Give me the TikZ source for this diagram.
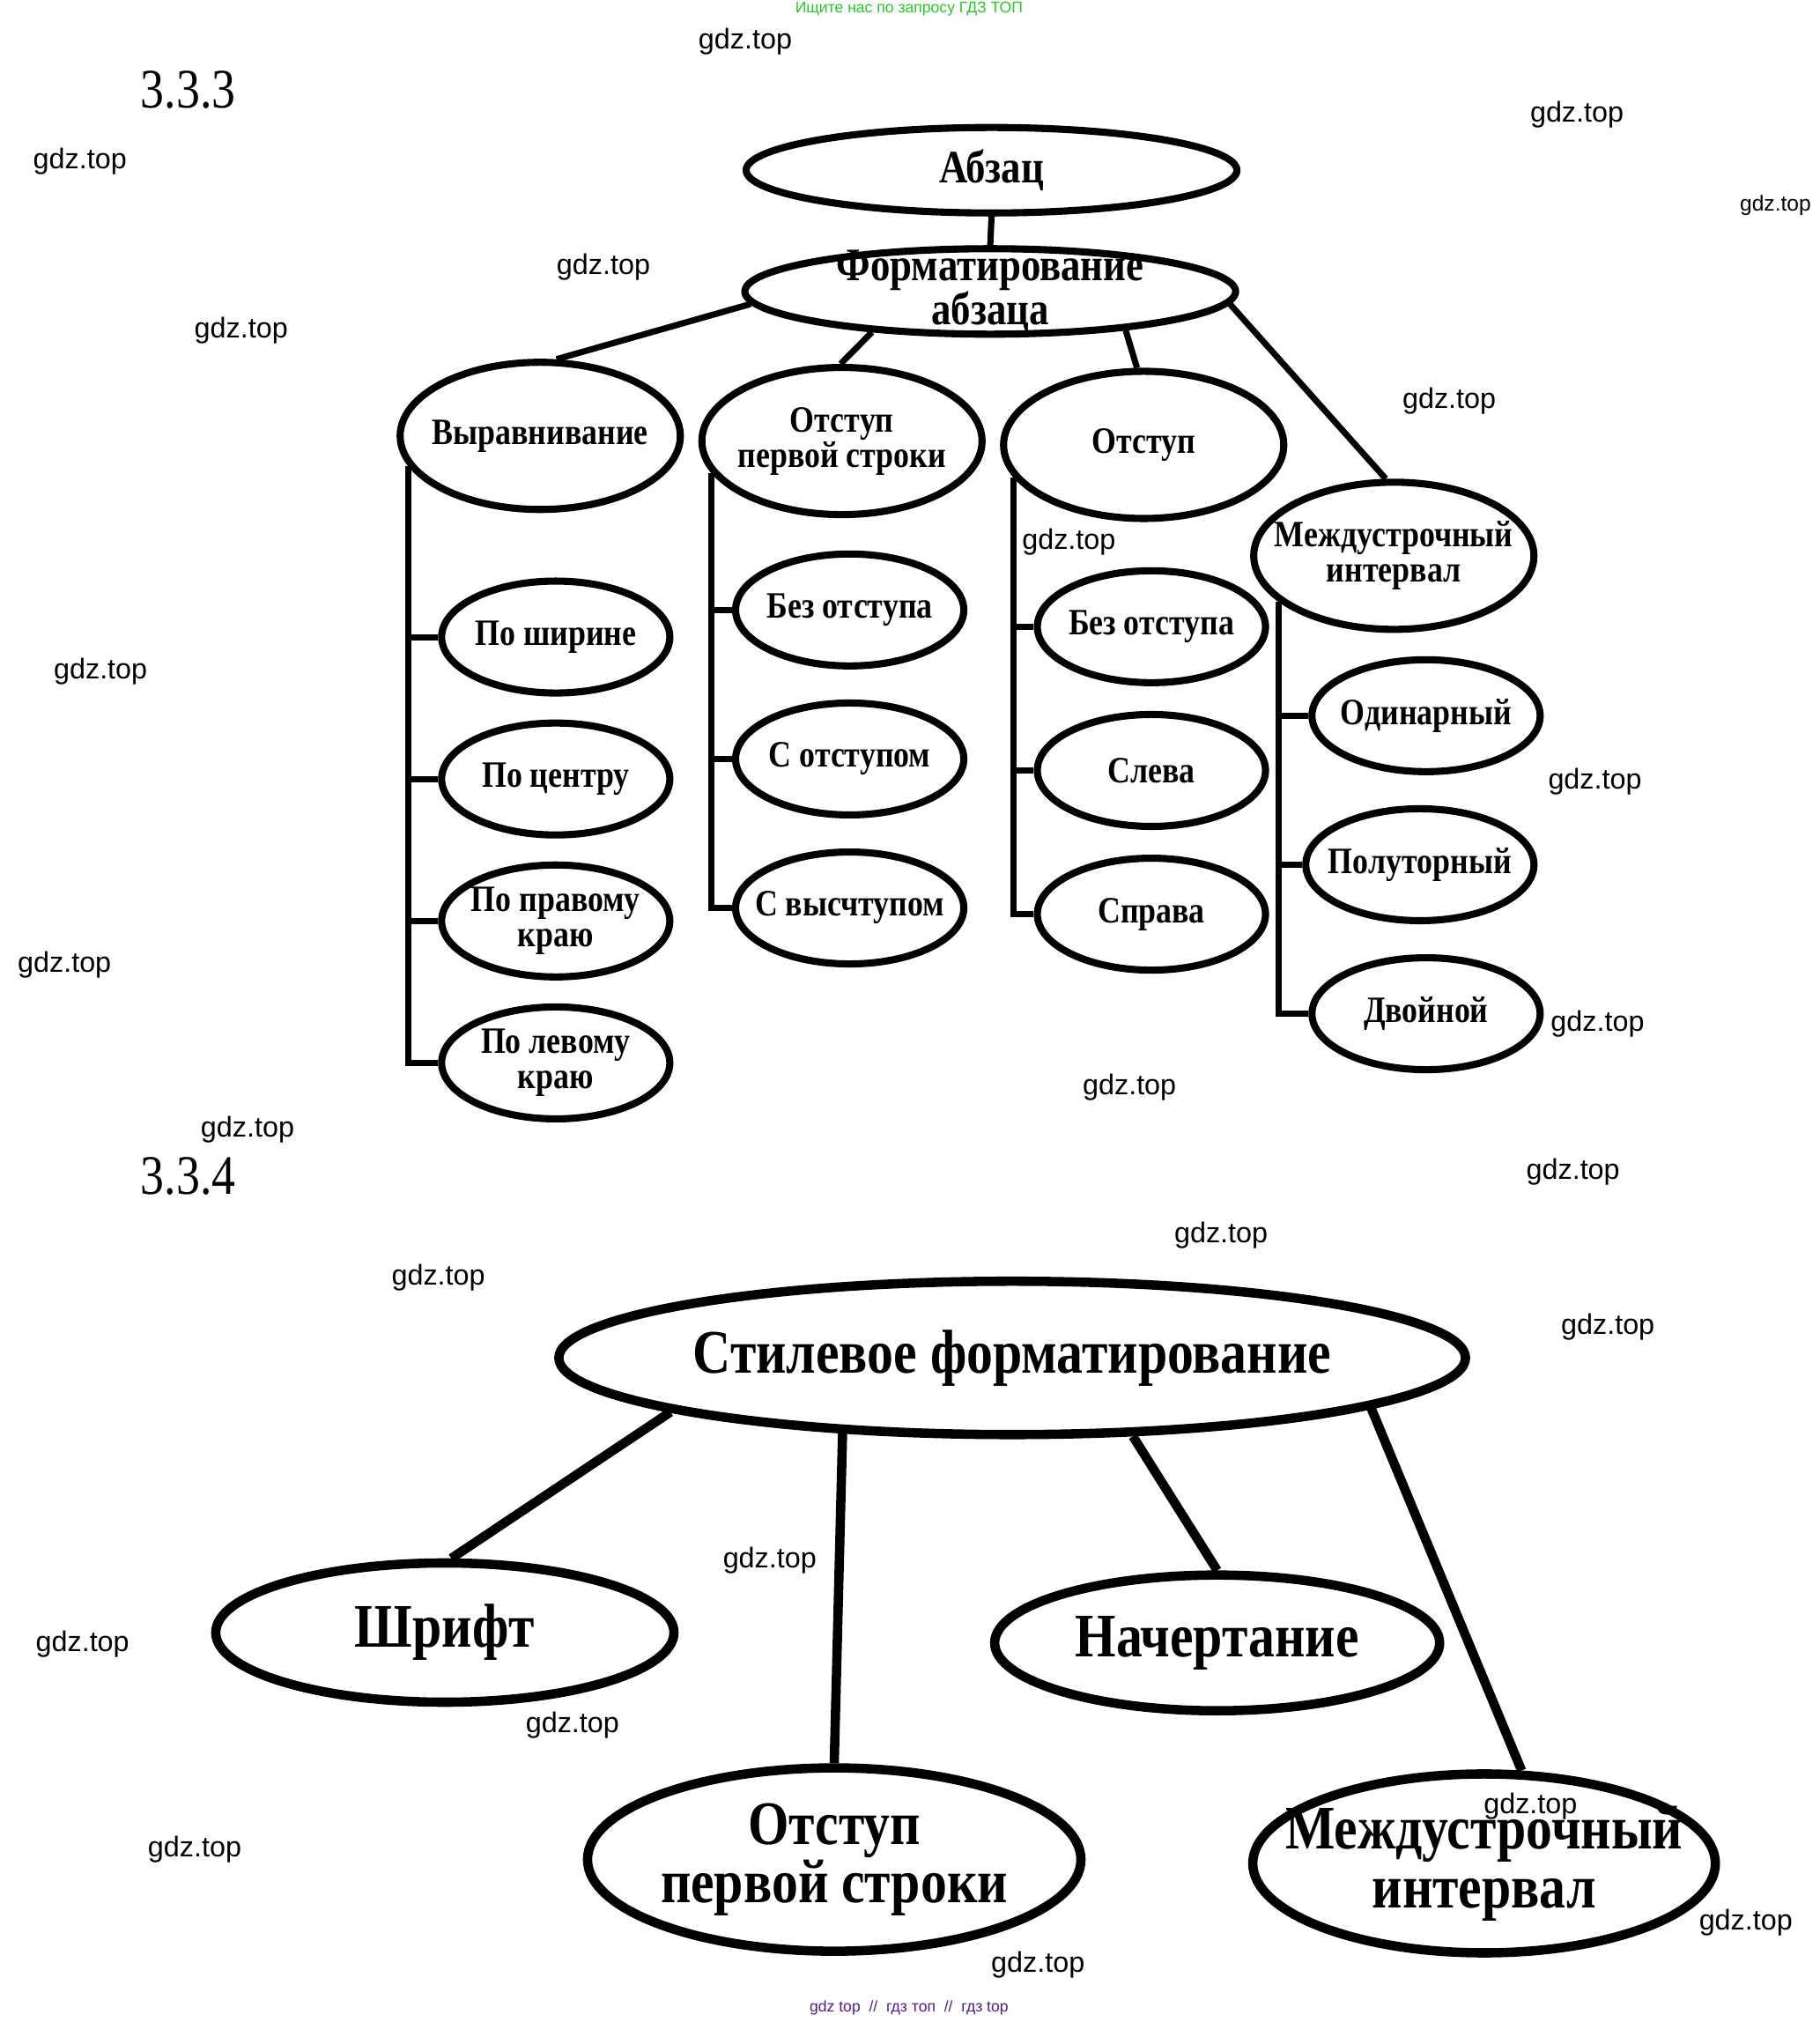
\documentclass[tikz,border=0pt]{standalone}
\usepackage{fontspec}
\setmainfont{Liberation Serif}
\newfontfamily\ovalfont[FakeStretch=0.85]{Liberation Serif}
\newfontfamily\markfont{Liberation Sans}
\usetikzlibrary{positioning}
\usetikzlibrary{shapes.geometric}
\definecolor{gdzgreen}{RGB}{40,200,40}
\definecolor{gdzpurple}{RGB}{80,30,140}

\begin{document}
\begin{tikzpicture}
	[x=0.014635cm, y=-0.014635cm,
		oval/.style={ellipse,draw,line width=2.3pt,inner sep=-2cm,align=center,
			font=\ovalfont\bfseries\fontsize{12}{11.4}\selectfont},
		rootoval/.style={oval,minimum width=5.57cm,minimum height=0.97cm,
			font=\ovalfont\bfseries\fontsize{15}{14.2}\selectfont},
		groupoval/.style={oval,minimum width=3.18cm,minimum height=1.67cm},
		itemoval/.style={oval,minimum width=2.59cm,minimum height=1.27cm},
		styleoval/.style={oval,line width=3pt,
			font=\ovalfont\bfseries\fontsize{20}{19}\selectfont},
		connect/.style={line width=2pt},
		thick connect/.style={line width=3pt},
		number/.style={font=\ovalfont\fontsize{18}{20}\selectfont},
		wmark/.style={font=\markfont\fontsize{9.2}{11}\selectfont}]
	\useasboundingbox (0,0) rectangle (1411,1568);

	% 3.3.3
	\node[number] (n333) at (146,70) {3.3.3};
	\node[rootoval] (abz) at (769,132) {Абзац};
	\node[rootoval] (fmt) at (768,226) {Форматирование\\абзаца};
	\node[groupoval] (vyr) at (419,338) {Выравнивание};
	\node[groupoval] (otp) at (653,342) {Отступ\\первой строки};
	\node[groupoval] (ots) at (887,345) {Отступ};
	\node[groupoval] (mei) at (1081,431) {Междустрочный\\интервал};

	\node[itemoval] (vyr1) at (431,494) {По ширине};
	\node[itemoval] (vyr2) [below=0.26cm of vyr1] {По центру};
	\node[itemoval] (vyr3) [below=0.26cm of vyr2] {По правому\\краю};
	\node[itemoval] (vyr4) [below=0.26cm of vyr3] {По левому\\краю};

	\node[itemoval] (otp1) at (659,473) {Без отступа};
	\node[itemoval] (otp2) [below=0.34cm of otp1] {С отступом};
	\node[itemoval] (otp3) [below=0.34cm of otp2] {С высчтупом};

	\node[itemoval] (ots1) at (893,486) {Без отступа};
	\node[itemoval] (ots2) [below=0.28cm of ots1] {Слева};
	\node[itemoval] (ots3) [below=0.28cm of ots2] {Справа};

	\node[itemoval] (mei1) at (1106,555) {Одинарный};
	\node[itemoval] (mei2) [below=0.34cm of mei1,xshift=-0.07cm] {Полуторный};
	\node[itemoval] (mei3) [below=0.34cm of mei2,xshift=0.07cm] {Двойной};

	\draw[connect] (abz.south) -- (fmt.north);
	\draw[connect] (fmt.183.6) -- (vyr.78);
	\draw[connect] (fmt.199) -- (otp.91);
	\draw[connect] (fmt.-16) -- (ots.95);
	\draw[connect] (fmt.-3.7) -- (mei.96);

	\coordinate (bus1) at (vyr.193);
	\coordinate (bus2) at (otp.194);
	\coordinate (bus3) at (ots.194);
	\coordinate (bus4) at (mei.202);
	\draw[connect] (bus1) |- (vyr4.west);
	\draw[connect] (bus2) |- (otp3.west);
	\draw[connect] (bus3) |- (ots3.west);
	\draw[connect] (bus4) |- (mei3.west);
	\foreach \n in {1,2,3}
		\draw[connect] (bus1 |- vyr\n.west) -- (vyr\n.west);
	\foreach \n in {1,2}{
		\draw[connect] (bus2 |- otp\n.west) -- (otp\n.west);
		\draw[connect] (bus3 |- ots\n.west) -- (ots\n.west);
		\draw[connect] (bus4 |- mei\n.west) -- (mei\n.west);
	}

	% 3.3.4
	\node[number] (n334) at (146,912) {3.3.4};
	\node[styleoval,minimum width=10.29cm,minimum height=1.74cm] (sti) at (785,1053) {Стилевое форматирование};
	\node[styleoval,minimum width=5.2cm,minimum height=1.58cm] (shr) at (345,1266) {Шрифт};
	\node[styleoval,minimum width=5.05cm,minimum height=1.54cm] (nac) at (944,1274) {Начертание};
	\node[styleoval,minimum width=5.6cm,minimum height=2.08cm] (fst) at (647,1442) {Отступ\\первой строки};
	\node[styleoval,minimum width=5.25cm,minimum height=2.03cm] (lsp) at (1151,1445) {Междустрочный\\интервал};

	\draw[thick connect] (sti.189.4) -- (shr.85);
	\draw[thick connect] (sti.204.6) -- (fst.north);
	\draw[thick connect] (sti.-33.4) -- (nac.north);
	\draw[thick connect] (sti.-8.4) -- (lsp.68);

	% watermarks
	\node[font=\markfont\fontsize{5}{6}\selectfont,text=gdzgreen] (hdr) at (705,7) {Ищите нас по запросу ГДЗ ТОП};
	\node[font=\markfont\fontsize{5}{6}\selectfont,text=gdzpurple] (ftr) at (705,1557) {gdz top \ // \ гдз топ \ // \ гдз top};
	\node[font=\markfont\fontsize{7}{8}\selectfont] (wm0) at (1377,159) {gdz.top};
	\foreach \x/\y [count=\i] in {578/32,1223/89,62/125,468/207,187/256,1124/311,829/420,
		78/521,1237/606,50/748,1239/794,876/843,192/876,1220/909,947/958,340/991,
		1247/1029,597/1210,64/1275,444/1338,151/1434,1187/1401,1354/1491,805/1524}
		\node[wmark] (wm\i) at (\x,\y) {gdz.top};
\end{tikzpicture}
\end{document}
